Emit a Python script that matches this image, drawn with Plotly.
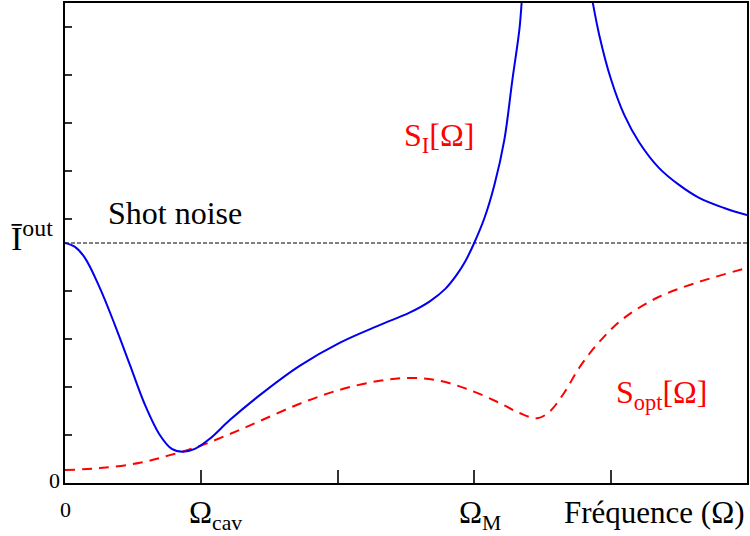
import plotly.graph_objects as go

# Blue curve S_I[Omega] (frequency in units where Omega_M = 3, shot noise = 5)
si_x = [0.0, 0.073, 0.146, 0.256, 0.366, 0.476, 0.586, 0.695, 0.783, 0.864, 0.952, 1.061,
        1.208, 1.428, 1.72, 2.013, 2.306, 2.526, 2.672, 2.79, 2.87, 2.935, 3.0, 3.075, 3.148,
        3.221, 3.28, 3.331, 3.37, 3.61, 3.85, 3.917, 4.004, 4.1, 4.209, 4.356, 4.502,
        4.649, 4.832, 5.0]
si_y = [5.0, 4.92, 4.69, 4.06, 3.29, 2.46, 1.63, 1.0, 0.71, 0.65, 0.71, 0.92,
        1.31, 1.83, 2.44, 2.92, 3.29, 3.55, 3.78, 4.05, 4.33, 4.62, 5.0, 5.52, 6.21,
        7.15, 8.40, 9.44, 10.6, 14.0, 10.3, 9.33, 8.40, 7.67, 7.10, 6.56, 6.21,
        5.94, 5.73, 5.58]

# Red dashed curve S_opt[Omega]
so_x = [0.0, 0.256, 0.549, 0.769, 0.988, 1.208, 1.428, 1.72, 2.013, 2.306, 2.526, 2.745,
        2.965, 3.184, 3.331, 3.463, 3.55, 3.66, 3.77, 3.917, 4.1, 4.356, 4.649, 5.0]
so_y = [0.27, 0.31, 0.42, 0.58, 0.77, 1.02, 1.29, 1.65, 1.94, 2.13, 2.19, 2.13,
        1.94, 1.67, 1.46, 1.35, 1.48, 1.88, 2.40, 2.94, 3.44, 3.88, 4.19, 4.48]

shot_noise = 5.0
x_range = [0, 5]
y_range = [0, 10]
x_ticks = [1, 2, 3, 4]
y_ticks = [1, 2, 3, 4, 5.5, 6.5, 7.5, 8.5, 9.5]

FONT = "Liberation Serif"

fig = go.Figure()
fig.add_trace(go.Scatter(x=x_range, y=[shot_noise, shot_noise], mode="lines",
                         line=dict(color="black", width=1, dash="4px,2px"), hoverinfo="skip"))
fig.add_trace(go.Scatter(x=so_x, y=so_y, mode="lines", line_shape="spline",
                         line=dict(color="#ff0000", width=2, dash="10px,7px")))
fig.add_trace(go.Scatter(x=si_x, y=si_y, mode="lines", line_shape="spline",
                         line=dict(color="#0000ee", width=2)))

ann = [
    dict(x=0, y=-0.025, xref="x", yref="paper", text="0", xanchor="center", yanchor="top",
         font=dict(size=22)),
    dict(x=-0.004, y=0.05, xref="paper", yref="y", text="0", xanchor="right", yanchor="middle",
         font=dict(size=22)),
    dict(x=1.0, y=-0.02, xref="x", yref="paper", text="Ω<sub>cav</sub>", xanchor="center",
         yanchor="top", font=dict(size=31), xshift=14),
    dict(x=3.0, y=-0.02, xref="x", yref="paper", text="Ω<sub>M</sub>", xanchor="center",
         yanchor="top", font=dict(size=31), xshift=6),
    dict(x=1.0, y=-0.02, xref="paper", yref="paper", text="Fréquence (Ω)", xanchor="right",
         yanchor="top", font=dict(size=31)),
    dict(x=-0.095, y=shot_noise + 0.15, xref="paper", yref="y", text="Ī<sup>out</sup>",
         xanchor="left", yanchor="middle", font=dict(size=34), xshift=9),
    dict(x=0.06, y=shot_noise + 0.2, xref="paper", yref="y", text="Shot noise", xanchor="left",
         yanchor="bottom", font=dict(size=32)),
    dict(x=2.74, y=7.2, xref="x", yref="y", text="S<sub>I</sub>[Ω]", xanchor="center",
         yanchor="middle", font=dict(size=32, color="#ff0000")),
    dict(x=4.38, y=1.85, xref="x", yref="y", text="S<sub>opt</sub>[Ω]", xanchor="center",
         yanchor="middle", font=dict(size=32, color="#ff0000")),
]
for a in ann:
    a["showarrow"] = False

fig.update_layout(
    width=750, height=536,
    margin=dict(l=65, r=1, t=2, b=53),
    paper_bgcolor="white", plot_bgcolor="white",
    showlegend=False,
    font=dict(family=FONT, color="black"),
    annotations=ann,
    xaxis=dict(range=x_range, tickvals=x_ticks, showticklabels=False, ticks="inside",
               ticklen=13, tickcolor="#333", tickwidth=1.5, showgrid=False, zeroline=False,
               showline=True, linecolor="black", linewidth=1.5, mirror=True, fixedrange=True),
    yaxis=dict(range=y_range, tickvals=y_ticks, showticklabels=False, ticks="inside",
               ticklen=7, tickcolor="#333", tickwidth=1.5, showgrid=False, zeroline=False,
               showline=True, linecolor="black", linewidth=1.5, mirror=True, fixedrange=True),
)

fig.write_html("out.html", config={"displayModeBar": False},
               post_script="document.body.style.margin='0';")
